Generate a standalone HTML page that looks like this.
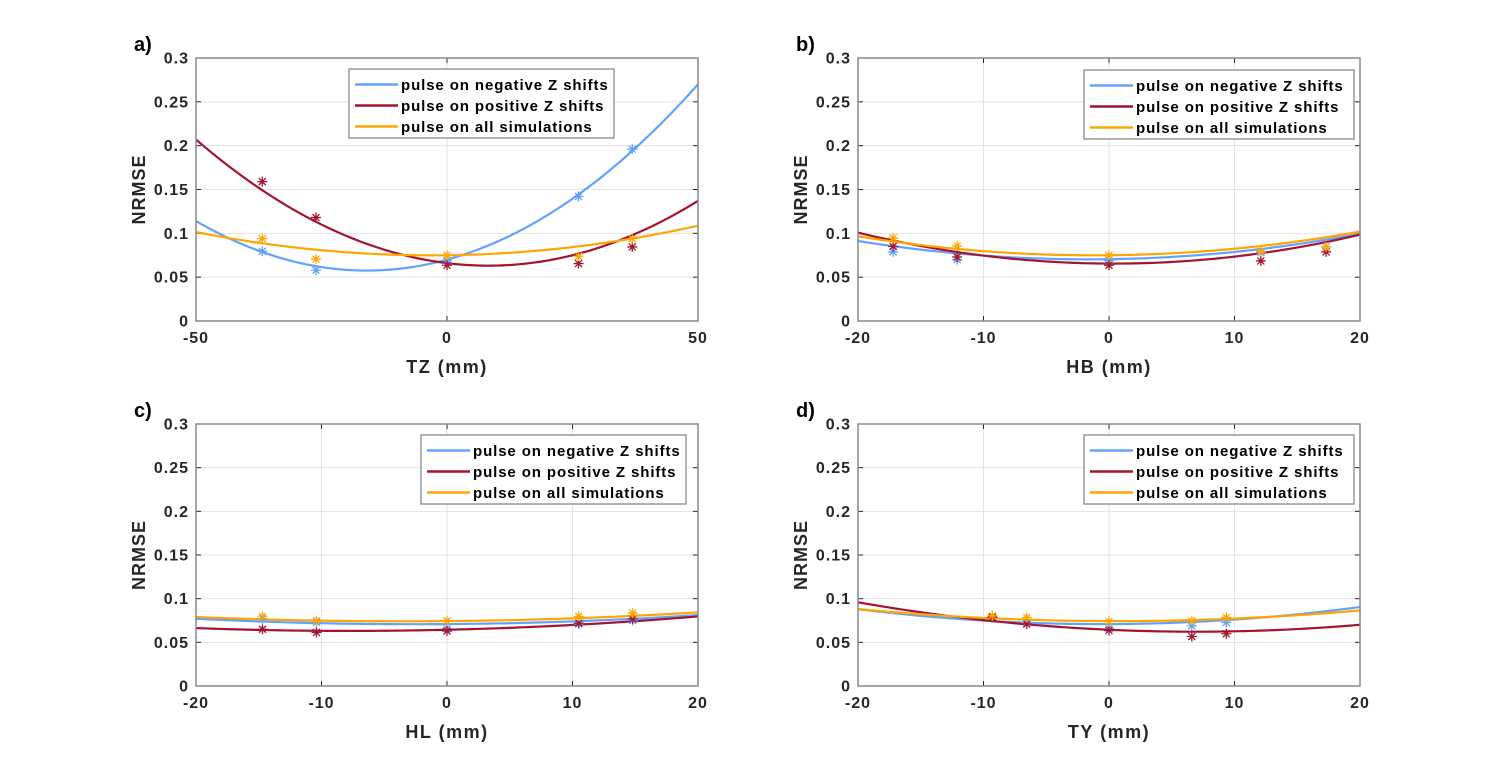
<!DOCTYPE html>
<html><head><meta charset="utf-8"><style>
html,body{margin:0;padding:0;background:#fff;}
svg{display:block;font-family:"Liberation Sans",Arial,sans-serif;font-weight:bold;}
</style></head><body>
<svg id="fig" width="1504" height="772" viewBox="0 0 1504 772"></svg>
<script>
// ---- data ----
const panelLetters = ["a)", "b)", "c)", "d)"];
const xLabels = ["TZ (mm)", "HB (mm)", "HL (mm)", "TY (mm)"];
const xMins = [-50, -20, -20, -20];
const xMaxs = [50, 20, 20, 20];
const xTicksA = [-50, 0, 50];
const xTicksB = [-20, -10, 0, 10, 20];
const yTicks = [0, 0.05, 0.1, 0.15, 0.2, 0.25, 0.3];
const yTickLabels = ["0", "0.05", "0.1", "0.15", "0.2", "0.25", "0.3"];
const seriesNames = ["pulse on negative Z shifts", "pulse on positive Z shifts", "pulse on all simulations"];
// sample x positions per panel
const ptsXA = [-36.8, -26.1, 0, 26.2, 36.9];
const ptsXB = [-17.2, -12.1, 0, 12.1, 17.3];
const ptsXC = [-14.7, -10.4, 0, 10.5, 14.8];
const ptsXD = [-9.3, -6.55, 0, 6.6, 9.35];
// point values [negative, positive, all]
const ptsA_neg = [0.0795, 0.058, 0.069, 0.142, 0.196];
const ptsA_pos = [0.159, 0.118, 0.0636, 0.0655, 0.0845];
const ptsA_all = [0.094, 0.0705, 0.075, 0.074, 0.094];
const ptsB_neg = [0.0788, 0.070, 0.069, 0.078, 0.0845];
const ptsB_pos = [0.085, 0.073, 0.0636, 0.0685, 0.0788];
const ptsB_all = [0.0947, 0.0856, 0.075, 0.0795, 0.0845];
const ptsC_neg = [0.077, 0.0728, 0.066, 0.071, 0.075];
const ptsC_pos = [0.065, 0.0613, 0.063, 0.072, 0.0767];
const ptsC_all = [0.0797, 0.0747, 0.0747, 0.0797, 0.0835];
const ptsD_neg = [0.079, 0.0728, 0.066, 0.069, 0.0728];
const ptsD_pos = [0.0785, 0.071, 0.0636, 0.0567, 0.0598];
const ptsD_all = [0.0805, 0.0785, 0.074, 0.0747, 0.0785];
// fitted curve values at [xmin, 0, xmax]
const fitA_neg = [0.114, 0.070, 0.270];
const fitA_pos = [0.207, 0.066, 0.137];
const fitA_all = [0.1015, 0.075, 0.1087];
const fitB_neg = [0.0913, 0.0705, 0.0996];
const fitB_pos = [0.1008, 0.0655, 0.0985];
const fitB_all = [0.0966, 0.075, 0.102];
const fitC_neg = [0.077, 0.0709, 0.0812];
const fitC_pos = [0.0663, 0.0644, 0.0797];
const fitC_all = [0.079, 0.0743, 0.0843];
const fitD_neg = [0.088, 0.0709, 0.0904];
const fitD_pos = [0.0958, 0.0644, 0.0701];
const fitD_all = [0.0881, 0.0743, 0.0866];

const colors = ["#62a2ff", "#a2142f", "#ffa500"];
const NS = "http://www.w3.org/2000/svg";
const svg = document.getElementById("fig");
function mk(tag, attrs, parent) {
  const e = document.createElementNS(NS, tag);
  for (const k in attrs) e.setAttribute(k, attrs[k]);
  (parent || svg).appendChild(e);
  return e;
}
const boxes = [
  {l:196, r:698, t:58, b:321},
  {l:858, r:1360, t:58, b:321},
  {l:196, r:698, t:424, b:686},
  {l:858, r:1360, t:424, b:686}
];
const legends = [
  {x:349, y:69, w:265},
  {x:1084, y:70, w:270},
  {x:421, y:435, w:265},
  {x:1084, y:435, w:270}
];
const allPtsX = [ptsXA, ptsXB, ptsXC, ptsXD];
const allPts = [[ptsA_neg, ptsA_pos, ptsA_all],[ptsB_neg, ptsB_pos, ptsB_all],[ptsC_neg, ptsC_pos, ptsC_all],[ptsD_neg, ptsD_pos, ptsD_all]];
const allFits = [[fitA_neg, fitA_pos, fitA_all],[fitB_neg, fitB_pos, fitB_all],[fitC_neg, fitC_pos, fitC_all],[fitD_neg, fitD_pos, fitD_all]];

for (let p = 0; p < 4; p++) {
  const B = boxes[p];
  const xmin = xMins[p], xmax = xMaxs[p];
  const X = v => B.l + (v - xmin) / (xmax - xmin) * (B.r - B.l);
  const Y = v => B.b - v / 0.3 * (B.b - B.t);
  const g = mk("g", {});
  
  
  mk("rect", {x:B.l, y:B.t, width:B.r-B.l, height:B.b-B.t, fill:"#fff"}, g);
  const xt = p === 0 ? xTicksA : xTicksB;
  xt.forEach(v => { mk("line", {x1:X(v), x2:X(v), y1:B.t, y2:B.b, stroke:"#e3e3e3", "stroke-width":1}, g); });
  yTicks.forEach(v => { mk("line", {x1:B.l, x2:B.r, y1:Y(v), y2:Y(v), stroke:"#e3e3e3", "stroke-width":1}, g); });
  xt.forEach(v => {
    mk("line", {x1:X(v), x2:X(v), y1:B.b, y2:B.b-5, stroke:"#262626"}, g);
    mk("line", {x1:X(v), x2:X(v), y1:B.t, y2:B.t+5, stroke:"#262626"}, g);
    const t = mk("text", {x:X(v), y:B.b+22, "text-anchor":"middle", "font-size":16, "letter-spacing":1, fill:"#262626"}, g);
    t.textContent = v;
    
    
  });
  yTicks.forEach((v, i) => {
    mk("line", {x1:B.l, x2:B.l+5, y1:Y(v), y2:Y(v), stroke:"#262626"}, g);
    mk("line", {x1:B.r, x2:B.r-5, y1:Y(v), y2:Y(v), stroke:"#262626"}, g);
    const t = mk("text", {x:B.l-7, y:Y(v)+5.5, "text-anchor":"end", "font-size":16, "letter-spacing":1, fill:"#262626"}, g);
    t.textContent = yTickLabels[i];
    
    
  });
  for (let s = 0; s < 3; s++) {
    const f = allFits[p][s];
    const h = (xmax - xmin) / 2;
    const c0 = f[1];
    const c1 = (f[2] - f[0]) / (xmax - xmin);
    const c2 = (f[0] + f[2] - 2 * f[1]) / (2 * h * h);
    let d = "";
    for (let k = 0; k <= 100; k++) {
      const xv = xmin + (xmax - xmin) * k / 100;
      const yv = c0 + c1 * xv + c2 * xv * xv;
      d += (k ? "L" : "M") + X(xv).toFixed(2) + "," + Y(yv).toFixed(2);
    }
    const path = mk("path", {d:d, fill:"none", stroke:colors[s], "stroke-width":2.2}, g);
    
    
  }
  for (let s = 0; s < 3; s++) {
    allPts[p][s].forEach((v, i) => {
      const cx = X(allPtsX[p][i]), cy = Y(v), r = 5;
      const m = mk("path", {d:`M${cx-r},${cy}H${cx+r}M${cx},${cy-r}V${cy+r}M${cx-3.5},${cy-3.5}L${cx+3.5},${cy+3.5}M${cx-3.5},${cy+3.5}L${cx+3.5},${cy-3.5}`, stroke:colors[s], "stroke-width":1.3, fill:"none"}, g);
      
      
    });
  }
  mk("rect", {x:B.l, y:B.t, width:B.r-B.l, height:B.b-B.t, fill:"none", stroke:"#888", "stroke-width":1.5}, g);
  const xl = mk("text", {x:(B.l+B.r)/2, y:B.b+52, "text-anchor":"middle", "font-size":18, "letter-spacing":1.5, fill:"#262626"}, g);
  xl.textContent = xLabels[p];
  
  
  const yc = (B.t + B.b) / 2;
  const yl = mk("text", {x:B.l-51, y:yc, "text-anchor":"middle", "font-size":18, "letter-spacing":1, fill:"#262626", transform:`rotate(-90 ${B.l-51} ${yc})`}, g);
  yl.textContent = "NRMSE";
  
  
  const pl = mk("text", {x:B.l-62, y:B.t-7, "font-size":20, fill:"#000"}, g);
  pl.textContent = panelLetters[p];
  
  
  const L = legends[p];
  const lg = mk("g", {}, g);
  
  
  mk("rect", {x:L.x, y:L.y, width:L.w, height:69, fill:"#fff", stroke:"#888", "stroke-width":1.3}, lg);
  for (let s = 0; s < 3; s++) {
    const ry = L.y + 15.5 + s * 21;
    mk("line", {x1:L.x+6, x2:L.x+49, y1:ry, y2:ry, stroke:colors[s], "stroke-width":2.5}, lg);
    const t = mk("text", {x:L.x+52, y:ry+5.5, "font-size":15, "letter-spacing":0.9, fill:"#000"}, lg);
    t.textContent = seriesNames[s];
    
    
  }
}
</script>
</body></html>
